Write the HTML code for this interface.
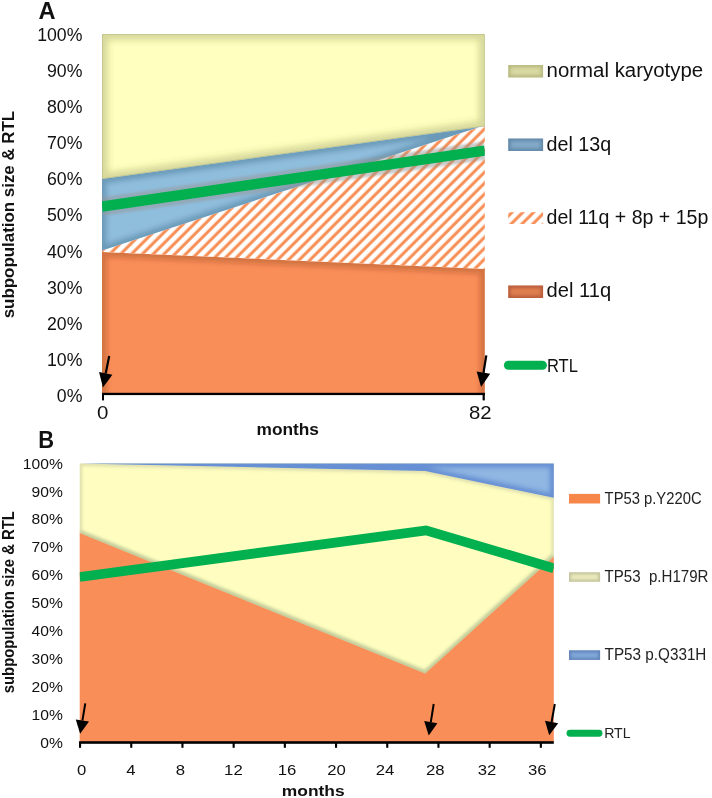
<!DOCTYPE html>
<html lang="en"><head><meta charset="utf-8"><title>Subpopulation size and RTL</title>
<style>
html,body{margin:0;padding:0;background:#fff}
body{width:712px;height:798px;overflow:hidden}
svg{display:block}
text{font-family:"Liberation Sans",Arial,Helvetica,sans-serif}
</style></head><body>
<svg width="712" height="798" viewBox="0 0 712 798">
<defs>
<filter id="b2_2" x="-20%" y="-20%" width="140%" height="140%"><feGaussianBlur stdDeviation="2.2"/></filter>
<filter id="b1_5" x="-20%" y="-20%" width="140%" height="140%"><feGaussianBlur stdDeviation="1.5"/></filter>
<filter id="b2_4" x="-20%" y="-20%" width="140%" height="140%"><feGaussianBlur stdDeviation="2.4"/></filter>
<filter id="b1_3" x="-20%" y="-20%" width="140%" height="140%"><feGaussianBlur stdDeviation="1.3"/></filter>
<filter id="b2_0" x="-20%" y="-20%" width="140%" height="140%"><feGaussianBlur stdDeviation="2.0"/></filter>
<filter id="b2_6" x="-20%" y="-20%" width="140%" height="140%"><feGaussianBlur stdDeviation="2.6"/></filter>
<filter id="b3" x="-20%" y="-20%" width="140%" height="140%"><feGaussianBlur stdDeviation="3"/></filter>
<filter id="ls" x="-5%" y="-60%" width="110%" height="220%"><feGaussianBlur stdDeviation="1.3"/></filter>
<pattern id="hatch" width="7.672" height="7.672" patternUnits="userSpaceOnUse" patternTransform="rotate(-45)">
<rect x="-1" y="2.55" width="10" height="3.05" fill="#F78E55"/></pattern>
</defs>
<rect width="712" height="798" fill="#fff"/>

<g id="chartA">
<clipPath id="cAo"><polygon points="102.0,394.0 102.0,252.0 484.8,269.0 484.8,394.0"/></clipPath><polygon points="102.0,394.0 102.0,251.0 484.8,268.0 484.8,394.0" fill="#FA8E58"/><g clip-path="url(#cAo)"><polyline points="102.0,402.0 102.0,252.0 484.8,269.0 484.8,402.0" fill="none" stroke="rgba(90,30,0,0.25)" stroke-width="10" filter="url(#b2_6)"/></g>
<polygon points="102.0,252.0 484.8,269.0 484.8,124.4 102.0,249.6" fill="#fff"/><polygon points="102.0,250.6 102.0,252.0 484.8,269.0 484.8,125.4" fill="url(#hatch)"/>
<clipPath id="cAb"><polygon points="102.0,250.6 484.8,125.2 484.8,126.4 102.0,179.1"/></clipPath><polygon points="102.0,250.6 484.8,125.2 484.8,125.2 102.0,178.1" fill="#8FBDDC"/><g clip-path="url(#cAb)"><polygon points="102.0,250.6 484.8,125.2 484.8,126.4 102.0,179.1" fill="none" stroke="rgba(20,50,80,0.25)" stroke-width="9" filter="url(#b2_4)"/></g>
<clipPath id="cAy"><polygon points="102.0,179.1 484.8,126.2 484.8,34.0 102.0,34.0"/></clipPath><polygon points="102.0,179.1 484.8,126.2 484.8,34.0 102.0,34.0" fill="#FFFFBF"/><g clip-path="url(#cAy)"><polygon points="102.0,179.1 484.8,126.2 484.8,34.0 102.0,34.0" fill="none" stroke="rgba(80,85,30,0.23)" stroke-width="12" filter="url(#b3)"/><polygon points="102.0,179.1 484.8,126.2 484.8,34.0 102.0,34.0" fill="none" stroke="rgba(120,125,90,0.26)" stroke-width="1.6"/></g>
<clipPath id="cA"><rect x="102.0" y="34.0" width="382.8" height="360.0"/></clipPath>
<g clip-path="url(#cA)"><polyline points="102.0,206.6 484.8,150.6" fill="none" stroke="rgba(150,150,150,0.50)" stroke-width="18.5" filter="url(#ls)"/><polyline points="102.0,206.6 484.8,150.6" fill="none" stroke="#03B050" stroke-width="10.4"/></g>
<rect x="102.0" y="392.8" width="382.8" height="2.3" fill="#000"/>
<rect x="102.0" y="393" width="2" height="7.4" fill="#000"/><rect x="482.6" y="393" width="2.2" height="7.4" fill="#000"/>
<line x1="109.2" y1="356.0" x2="105.7" y2="373.4" stroke="#000" stroke-width="2.2"/><polygon points="102.9,387.6 99.1,372.1 112.4,374.7" fill="#000"/>
<line x1="486.3" y1="355.4" x2="483.5" y2="372.7" stroke="#000" stroke-width="2.2"/><polygon points="481.1,387.0 476.7,371.6 490.2,373.8" fill="#000"/>
<text x="82.4" y="402.1" font-size="17.7" font-weight="400" text-anchor="end" fill="#111" >0%</text>
<text x="82.4" y="366.0" font-size="17.7" font-weight="400" text-anchor="end" fill="#111" >10%</text>
<text x="82.4" y="329.8" font-size="17.7" font-weight="400" text-anchor="end" fill="#111" >20%</text>
<text x="82.4" y="293.7" font-size="17.7" font-weight="400" text-anchor="end" fill="#111" >30%</text>
<text x="82.4" y="257.5" font-size="17.7" font-weight="400" text-anchor="end" fill="#111" >40%</text>
<text x="82.4" y="221.4" font-size="17.7" font-weight="400" text-anchor="end" fill="#111" >50%</text>
<text x="82.4" y="185.2" font-size="17.7" font-weight="400" text-anchor="end" fill="#111" >60%</text>
<text x="82.4" y="149.0" font-size="17.7" font-weight="400" text-anchor="end" fill="#111" >70%</text>
<text x="82.4" y="112.9" font-size="17.7" font-weight="400" text-anchor="end" fill="#111" >80%</text>
<text x="82.4" y="76.7" font-size="17.7" font-weight="400" text-anchor="end" fill="#111" >90%</text>
<text x="82.4" y="40.6" font-size="17.7" font-weight="400" text-anchor="end" fill="#111" >100%</text>
<text x="102.6" y="418.7" font-size="17.8" font-weight="400" text-anchor="middle" fill="#111" textLength="11.4" lengthAdjust="spacingAndGlyphs" >0</text>
<text x="480.2" y="418.7" font-size="17.8" font-weight="400" text-anchor="middle" fill="#111" textLength="22.6" lengthAdjust="spacingAndGlyphs" >82</text>
<text x="256.5" y="435.3" font-size="17" font-weight="700" text-anchor="start" fill="#111" textLength="62.5" lengthAdjust="spacingAndGlyphs" >months</text>
<text x="0" y="0" font-size="16.6" font-weight="700" text-anchor="start" fill="#111" textLength="207.5" lengthAdjust="spacingAndGlyphs" transform="translate(14.2 318.3) rotate(-90)">subpopulation size &amp; RTL</text>
<text x="38.6" y="19.2" font-size="23.6" font-weight="700" text-anchor="start" fill="#111" >A</text>
<clipPath id="cLa"><polygon points="508.2,64.9 543.1,64.9 543.1,77.4 508.2,77.4"/></clipPath><polygon points="508.2,64.9 543.1,64.9 543.1,77.4 508.2,77.4" fill="#D9DAA2"/><g clip-path="url(#cLa)"><polygon points="508.2,64.9 543.1,64.9 543.1,77.4 508.2,77.4" fill="none" stroke="rgba(60,60,0,0.20)" stroke-width="5" filter="url(#b1_5)"/></g>
<clipPath id="cLb"><polygon points="508.2,138.6 543.1,138.6 543.1,151.0 508.2,151.0"/></clipPath><polygon points="508.2,138.6 543.1,138.6 543.1,151.0 508.2,151.0" fill="#81A9C7"/><g clip-path="url(#cLb)"><polygon points="508.2,138.6 543.1,138.6 543.1,151.0 508.2,151.0" fill="none" stroke="rgba(10,40,70,0.24)" stroke-width="5" filter="url(#b1_5)"/></g>
<g transform="translate(2.4 0)"><rect x="505.8" y="212.2" width="34.9" height="11.8" fill="url(#hatch)"/></g>
<clipPath id="cLd"><polygon points="508.2,285.6 543.1,285.6 543.1,297.9 508.2,297.9"/></clipPath><polygon points="508.2,285.6 543.1,285.6 543.1,297.9 508.2,297.9" fill="#DF7E4F"/><g clip-path="url(#cLd)"><polygon points="508.2,285.6 543.1,285.6 543.1,297.9 508.2,297.9" fill="none" stroke="rgba(80,20,0,0.26)" stroke-width="5" filter="url(#b1_5)"/></g>
<line x1="508.4" y1="365.2" x2="542.4" y2="365.2" stroke="#03B050" stroke-width="9" stroke-linecap="round"/>
<text x="546.6" y="77.2" font-size="20" font-weight="400" text-anchor="start" fill="#111" textLength="156.5" lengthAdjust="spacingAndGlyphs" >normal karyotype</text>
<text x="546.6" y="150.8" font-size="20" font-weight="400" text-anchor="start" fill="#111" textLength="64.6" lengthAdjust="spacingAndGlyphs" >del 13q</text>
<text x="546.6" y="224.2" font-size="20" font-weight="400" text-anchor="start" fill="#111" textLength="161.8" lengthAdjust="spacingAndGlyphs" >del 11q + 8p + 15p</text>
<text x="546.6" y="297.4" font-size="20" font-weight="400" text-anchor="start" fill="#111" textLength="64.6" lengthAdjust="spacingAndGlyphs" >del 11q</text>
<text x="546.9" y="372" font-size="18.4" font-weight="400" text-anchor="start" fill="#111" textLength="31" lengthAdjust="spacingAndGlyphs" >RTL</text>
</g>
<g id="chartB">
<polygon points="79.7,742.5 79.7,531.8 425.2,672.4 553.8,555.5 553.8,742.5" fill="#FA8E58"/>
<clipPath id="cBy"><polygon points="79.7,533.0 425.2,673.6 553.8,556.7 553.8,497.8 425.2,471.0 79.7,463.5"/></clipPath><polygon points="79.7,533.0 425.2,673.6 553.8,556.7 553.8,463.5 79.7,463.5" fill="#FFFEC0"/><g clip-path="url(#cBy)"><polyline points="79.7,533.0 425.2,673.6 553.8,556.7" fill="none" stroke="rgba(110,150,100,0.26)" stroke-width="7" filter="url(#b1_5)"/></g><g clip-path="url(#cBy)"><polygon points="79.7,533.0 425.2,673.6 553.8,556.7 553.8,497.8 425.2,471.0 79.7,463.5" fill="none" stroke="rgba(120,120,110,0.22)" stroke-width="5" filter="url(#b1_5)"/></g>
<clipPath id="cBb"><polygon points="79.7,463.5 425.2,471.0 553.8,497.8 553.8,463.5"/></clipPath><polygon points="79.7,463.5 425.2,471.0 553.8,497.8 553.8,463.5" fill="#90B6E2"/><g clip-path="url(#cBb)"><polygon points="79.7,463.5 425.2,471.0 553.8,497.8 553.8,463.5" fill="none" stroke="rgba(50,90,190,0.42)" stroke-width="8" filter="url(#b2_2)"/></g>
<clipPath id="cB"><rect x="79.7" y="463.5" width="474.09999999999997" height="279.0"/></clipPath>
<g clip-path="url(#cB)"><polyline points="79.7,577.0 426.0,530.4 553.8,568.2" fill="none" stroke="#03B050" stroke-width="9.8" stroke-linejoin="miter"/></g>
<rect x="79.0" y="741.2" width="474.79999999999995" height="2.6" fill="#000"/>
<rect x="79.0" y="742" width="2.1" height="5.8" fill="#000"/>
<rect x="130.2" y="742" width="2.1" height="5.8" fill="#000"/>
<rect x="181.4" y="742" width="2.1" height="5.8" fill="#000"/>
<rect x="232.6" y="742" width="2.1" height="5.8" fill="#000"/>
<rect x="283.8" y="742" width="2.1" height="5.8" fill="#000"/>
<rect x="335.0" y="742" width="2.1" height="5.8" fill="#000"/>
<rect x="386.2" y="742" width="2.1" height="5.8" fill="#000"/>
<rect x="437.4" y="742" width="2.1" height="5.8" fill="#000"/>
<rect x="488.6" y="742" width="2.1" height="5.8" fill="#000"/>
<rect x="539.8" y="742" width="2.1" height="5.8" fill="#000"/>
<line x1="85.3" y1="703.3" x2="82.4" y2="720.5" stroke="#000" stroke-width="2.0"/><polygon points="80.1,733.8 75.8,719.4 89.0,721.6" fill="#000"/>
<line x1="433.7" y1="704.0" x2="430.8" y2="722.2" stroke="#000" stroke-width="2.0"/><polygon points="428.7,735.5 424.2,721.1 437.4,723.2" fill="#000"/>
<line x1="554.8" y1="704.0" x2="551.6" y2="722.0" stroke="#000" stroke-width="2.0"/><polygon points="549.2,735.3 545.0,720.8 558.2,723.2" fill="#000"/>
<text x="62.8" y="748.0" font-size="14.9" font-weight="400" text-anchor="end" fill="#111" textLength="22.6" lengthAdjust="spacingAndGlyphs" >0%</text>
<text x="62.8" y="720.0" font-size="14.9" font-weight="400" text-anchor="end" fill="#111" textLength="31.3" lengthAdjust="spacingAndGlyphs" >10%</text>
<text x="62.8" y="692.1" font-size="14.9" font-weight="400" text-anchor="end" fill="#111" textLength="31.3" lengthAdjust="spacingAndGlyphs" >20%</text>
<text x="62.8" y="664.1" font-size="14.9" font-weight="400" text-anchor="end" fill="#111" textLength="31.3" lengthAdjust="spacingAndGlyphs" >30%</text>
<text x="62.8" y="636.2" font-size="14.9" font-weight="400" text-anchor="end" fill="#111" textLength="31.3" lengthAdjust="spacingAndGlyphs" >40%</text>
<text x="62.8" y="608.2" font-size="14.9" font-weight="400" text-anchor="end" fill="#111" textLength="31.3" lengthAdjust="spacingAndGlyphs" >50%</text>
<text x="62.8" y="580.3" font-size="14.9" font-weight="400" text-anchor="end" fill="#111" textLength="31.3" lengthAdjust="spacingAndGlyphs" >60%</text>
<text x="62.8" y="552.4" font-size="14.9" font-weight="400" text-anchor="end" fill="#111" textLength="31.3" lengthAdjust="spacingAndGlyphs" >70%</text>
<text x="62.8" y="524.4" font-size="14.9" font-weight="400" text-anchor="end" fill="#111" textLength="31.3" lengthAdjust="spacingAndGlyphs" >80%</text>
<text x="62.8" y="496.5" font-size="14.9" font-weight="400" text-anchor="end" fill="#111" textLength="31.3" lengthAdjust="spacingAndGlyphs" >90%</text>
<text x="62.8" y="468.5" font-size="14.9" font-weight="400" text-anchor="end" fill="#111" textLength="40.0" lengthAdjust="spacingAndGlyphs" >100%</text>
<text x="81.6" y="775" font-size="15.0" font-weight="400" text-anchor="middle" fill="#111" textLength="9.3" lengthAdjust="spacingAndGlyphs" >0</text>
<text x="130.9" y="775" font-size="15.0" font-weight="400" text-anchor="middle" fill="#111" textLength="9.3" lengthAdjust="spacingAndGlyphs" >4</text>
<text x="180.3" y="775" font-size="15.0" font-weight="400" text-anchor="middle" fill="#111" textLength="9.3" lengthAdjust="spacingAndGlyphs" >8</text>
<text x="233.4" y="775" font-size="15.0" font-weight="400" text-anchor="middle" fill="#111" textLength="18.6" lengthAdjust="spacingAndGlyphs" >12</text>
<text x="287" y="775" font-size="15.0" font-weight="400" text-anchor="middle" fill="#111" textLength="18.6" lengthAdjust="spacingAndGlyphs" >16</text>
<text x="336.6" y="775" font-size="15.0" font-weight="400" text-anchor="middle" fill="#111" textLength="18.6" lengthAdjust="spacingAndGlyphs" >20</text>
<text x="385" y="775" font-size="15.0" font-weight="400" text-anchor="middle" fill="#111" textLength="18.6" lengthAdjust="spacingAndGlyphs" >24</text>
<text x="435.2" y="775" font-size="15.0" font-weight="400" text-anchor="middle" fill="#111" textLength="18.6" lengthAdjust="spacingAndGlyphs" >28</text>
<text x="487" y="775" font-size="15.0" font-weight="400" text-anchor="middle" fill="#111" textLength="18.6" lengthAdjust="spacingAndGlyphs" >32</text>
<text x="537.2" y="775" font-size="15.0" font-weight="400" text-anchor="middle" fill="#111" textLength="18.6" lengthAdjust="spacingAndGlyphs" >36</text>
<text x="281.8" y="796.3" font-size="15.2" font-weight="700" text-anchor="start" fill="#111" textLength="62.8" lengthAdjust="spacingAndGlyphs" >months</text>
<text x="0" y="0" font-size="16.6" font-weight="700" text-anchor="start" fill="#111" textLength="182" lengthAdjust="spacingAndGlyphs" transform="translate(14.1 693.2) rotate(-90)">subpopulation size &amp; RTL</text>
<text x="38.2" y="447.6" font-size="24" font-weight="700" text-anchor="start" fill="#111" textLength="15.8" lengthAdjust="spacingAndGlyphs" >B</text>
<rect x="569" y="493.9" width="31.1" height="9.6" fill="#F6864A"/>
<clipPath id="cLf"><polygon points="569.0,572.2 600.1,572.2 600.1,581.8 569.0,581.8"/></clipPath><polygon points="569.0,572.2 600.1,572.2 600.1,581.8 569.0,581.8" fill="#E8E8BA"/><g clip-path="url(#cLf)"><polygon points="569.0,572.2 600.1,572.2 600.1,581.8 569.0,581.8" fill="none" stroke="rgba(90,90,70,0.25)" stroke-width="4" filter="url(#b1_3)"/></g>
<clipPath id="cLg"><polygon points="569.0,650.3 600.1,650.3 600.1,659.9 569.0,659.9"/></clipPath><polygon points="569.0,650.3 600.1,650.3 600.1,659.9 569.0,659.9" fill="#7FA6D6"/><g clip-path="url(#cLg)"><polygon points="569.0,650.3 600.1,650.3 600.1,659.9 569.0,659.9" fill="none" stroke="rgba(30,60,130,0.3)" stroke-width="4" filter="url(#b1_3)"/></g>
<line x1="570" y1="733.2" x2="599" y2="733.2" stroke="#03B050" stroke-width="6.9" stroke-linecap="round"/>
<text x="604.6" y="503.6" font-size="16.1" font-weight="400" text-anchor="start" fill="#222" textLength="97.0" lengthAdjust="spacingAndGlyphs" >TP53 p.Y220C</text>
<text x="604.6" y="581.9" font-size="16.1" font-weight="400" text-anchor="start" fill="#222" textLength="103.8" lengthAdjust="spacingAndGlyphs" style="white-space:pre" xml:space="preserve">TP53  p.H179R</text>
<text x="604.6" y="660.0" font-size="16.1" font-weight="400" text-anchor="start" fill="#222" textLength="101.8" lengthAdjust="spacingAndGlyphs" >TP53 p.Q331H</text>
<text x="604.2" y="738.2" font-size="15.4" font-weight="400" text-anchor="start" fill="#222" textLength="26.4" lengthAdjust="spacingAndGlyphs" >RTL</text>
</g>
</svg></body></html>
